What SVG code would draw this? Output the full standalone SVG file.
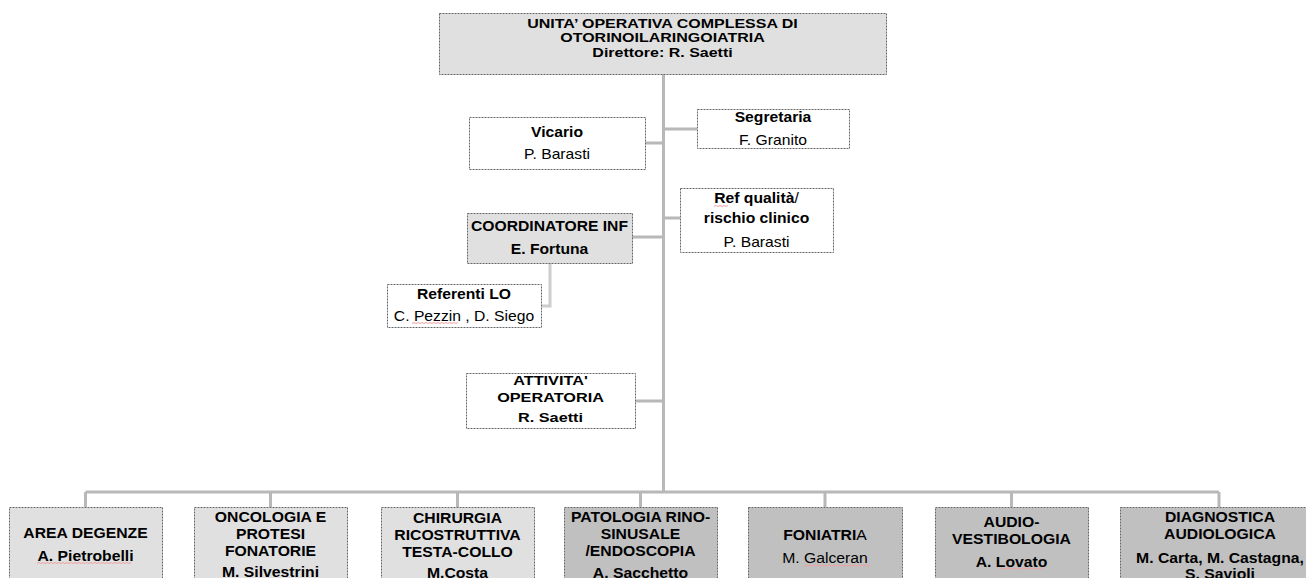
<svg xmlns="http://www.w3.org/2000/svg" width="1306" height="578" viewBox="0 0 1306 578">
<style>
text{font-family:"Liberation Sans",Arial,sans-serif;fill:#000;text-anchor:middle}
.b{font-weight:bold}
.n{font-weight:normal}
.box{stroke:#666;stroke-width:1;stroke-dasharray:2 1}
.lt{fill:#e0e0e0}
.dk{fill:#c0c0c0}
.wh{fill:#fff}
.con{fill:none;stroke:#b8b8b8;stroke-width:3}
.con2{fill:none;stroke:#cdcdcd;stroke-width:3}
.sq{fill:none;stroke:#f0a0a0;stroke-width:1}
.m{font-size:14px}
.s{font-size:15px}
.t{font-size:13px}
</style>
<g id="connectors">
<path class="con" d="M663.5 74V492"/>
<path class="con" d="M645 143H663.5M663.5 129H697M663.5 218H680M632 237H663.5M635 401H663.5"/>
<path class="con2" d="M550 263V306H541"/>
<path class="con" d="M85.5 492H1219M85.5 492V507M270.5 492V507M457.5 492V507M640.5 492V507M825 492V507M1011.5 492V507M1219 492V507"/>
</g>
<g id="top">
<rect class="box lt" x="439.5" y="13.5" width="447" height="61"/>
<g transform="translate(662.5,0) scale(1.23,1)">
<text class="b t" x="0" y="28">UNITA’ OPERATIVA COMPLESSA DI</text>
<text class="b t" x="0" y="42">OTORINOILARINGOIATRIA</text>
<text class="b t" x="0" y="57">Direttore: R. Saetti</text>
</g>
</g>
<g id="vicario">
<rect class="box wh" x="469.5" y="117.5" width="176" height="52"/>
<g transform="translate(557,0) scale(1.12,1)">
<text class="b m" x="0" y="137">Vicario</text>
<text class="n m" x="0" y="159">P. Barasti</text>
</g>
</g>
<g id="segretaria">
<rect class="box wh" x="697.5" y="109.5" width="152" height="39"/>
<g transform="translate(773,0) scale(1.12,1)">
<text class="b m" x="0" y="122">Segretaria</text>
<text class="n m" x="0" y="145">F. Granito</text>
</g>
</g>
<g id="refqualita">
<rect class="box wh" x="680.5" y="188.5" width="153" height="64"/>
<g transform="translate(756.5,0) scale(1.12,1)">
<text class="b m" x="0" y="203.5">Ref qualità<tspan class="n">/</tspan></text>
<text class="b m" x="0" y="223">rischio clinico</text>
<text class="n m" x="0" y="247">P. Barasti</text>
</g>
<path class="sq" d="M714 206.5l2 -1 2 1 2 -1 2 1 2 -1 2 1 2 -1"/>
</g>
<g id="coordinatore">
<rect class="box lt" x="467.5" y="213.5" width="165" height="50"/>
<g transform="translate(549.5,0) scale(1.12,1)">
<text class="b m" x="0" y="231">COORDINATORE INF</text>
<text class="b m" x="0" y="254">E. Fortuna</text>
</g>
</g>
<g id="referenti">
<rect class="box wh" x="387.5" y="284.5" width="154" height="43"/>
<g transform="translate(464,0) scale(1.12,1)">
<text class="b m" x="0" y="299.5">Referenti LO</text>
<text class="n m" x="0" y="321">C. Pezzin , D. Siego</text>
</g>
<path class="sq" d="M412 323.5l2 -1 2 1 2 -1 2 1 2 -1 2 1 2 -1 2 1 2 -1 2 1 2 -1 2 1 2 -1 2 1 2 -1 2 1 2 -1 2 1 2 -1 2 1 2 -1 2 1 2 -1"/>
</g>
<g id="attivita">
<rect class="box wh" x="466.5" y="373.5" width="169" height="55"/>
<g transform="translate(550.5,0) scale(1.25,1)">
<text class="b t" x="0" y="385">ATTIVITA'</text>
<text class="b t" x="0" y="402">OPERATORIA</text>
<text class="b t" x="0" y="422">R. Saetti</text>
</g>
</g>
<g id="degenze">
<rect class="box lt" x="9.5" y="507.5" width="153" height="90"/>
<g transform="translate(85.5,0) scale(1.05,1)">
<text class="b s" x="0" y="538">AREA DEGENZE</text>
<text class="b s" x="0" y="561.5">A. Pietrobelli</text>
</g>
<path class="sq" d="M37 563.5l2 -1 2 1 2 -1 2 1 2 -1 2 1 2 -1 2 1 2 -1 2 1 2 -1 2 1 2 -1 2 1 2 -1 2 1 2 -1 2 1 2 -1 2 1 2 -1 2 1 2 -1 2 1 2 -1 2 1 2 -1 2 1 2 -1 2 1 2 -1 2 1 2 -1 2 1 2 -1 2 1 2 -1 2 1 2 -1 2 1 2 -1 2 1 2 -1 2 1 2 -1 2 1 2 -1"/>
</g>
<g id="oncologia">
<rect class="box lt" x="194.5" y="507.5" width="153" height="90"/>
<g transform="translate(270.5,0) scale(1.05,1)">
<text class="b s" x="0" y="522.5">ONCOLOGIA E</text>
<text class="b s" x="0" y="539">PROTESI</text>
<text class="b s" x="0" y="556">FONATORIE</text>
<text class="b s" x="0" y="577.5">M. Silvestrini</text>
</g>
</g>
<g id="chirurgia">
<rect class="box lt" x="381.5" y="507.5" width="153" height="90"/>
<g transform="translate(457.5,0) scale(1.05,1)">
<text class="b s" x="0" y="523">CHIRURGIA</text>
<text class="b s" x="0" y="540">RICOSTRUTTIVA</text>
<text class="b s" x="0" y="557">TESTA-COLLO</text>
<text class="b s" x="0" y="578">M.Costa</text>
</g>
</g>
<g id="patologia">
<rect class="box dk" x="564.5" y="507.5" width="153" height="90"/>
<g transform="translate(640.5,0) scale(1.05,1)">
<text class="b s" x="0" y="522.5">PATOLOGIA RINO-</text>
<text class="b s" x="0" y="539">SINUSALE</text>
<text class="b s" x="0" y="556">/ENDOSCOPIA</text>
<text class="b s" x="0" y="578">A. Sacchetto</text>
</g>
</g>
<g id="foniatria">
<rect class="box dk" x="748.5" y="507.5" width="154" height="90"/>
<g transform="translate(825,0) scale(1.05,1)">
<text class="b s" x="0" y="540">FONIATRI<tspan class="n">A</tspan></text>
<text class="n s" x="0" y="563">M. Galceran</text>
</g>
<path class="sq" d="M804 566l2 -1 2 1 2 -1 2 1 2 -1 2 1 2 -1 2 1 2 -1 2 1 2 -1 2 1 2 -1 2 1 2 -1 2 1 2 -1 2 1 2 -1 2 1 2 -1 2 1 2 -1 2 1 2 -1 2 1 2 -1 2 1 2 -1 2 1 2 -1 2 1 2 -1"/>
</g>
<g id="audiovestibologia">
<rect class="box dk" x="935.5" y="507.5" width="153" height="90"/>
<g transform="translate(1011.5,0) scale(1.05,1)">
<text class="b s" x="0" y="527">AUDIO-</text>
<text class="b s" x="0" y="544">VESTIBOLOGIA</text>
<text class="b s" x="0" y="567">A. Lovato</text>
</g>
<path class="sq" d="M1000 569l2 -1 2 1 2 -1 2 1 2 -1 2 1 2 -1 2 1 2 -1 2 1 2 -1 2 1 2 -1 2 1 2 -1 2 1 2 -1 2 1 2 -1 2 1 2 -1"/>
</g>
<g id="diagnostica">
<rect class="box dk" x="1120.5" y="507.5" width="200" height="90"/>
<g transform="translate(1220,0) scale(1.05,1)">
<text class="b s" x="0" y="522.5">DIAGNOSTICA</text>
<text class="b s" x="0" y="539">AUDIOLOGICA</text>
<text class="b s" x="0" y="563">M. Carta, M. Castagna,</text>
<text class="b s" x="0" y="579">S. Savioli</text>
</g>
</g>
</svg>
